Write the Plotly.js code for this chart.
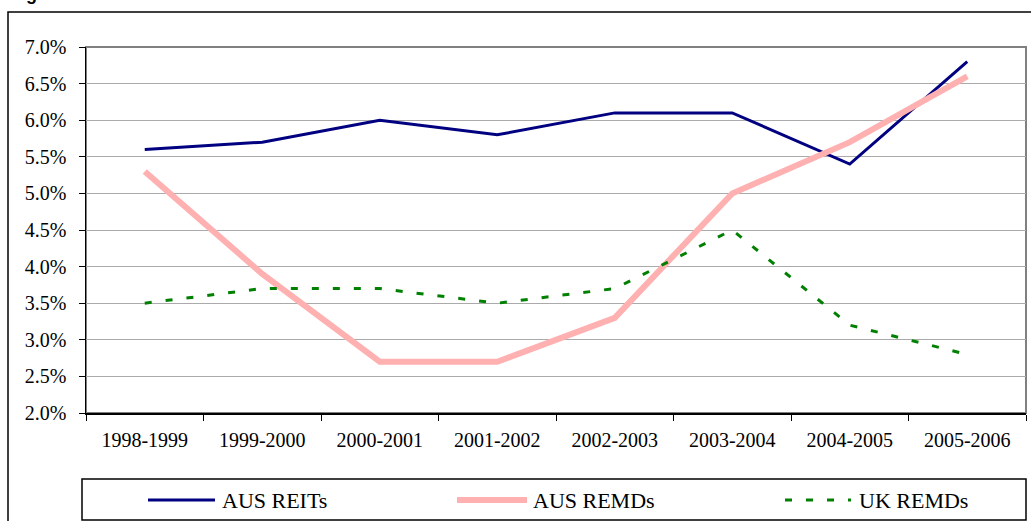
<!DOCTYPE html>
<html>
<head>
<meta charset="utf-8">
<script src="https://cdn.plot.ly/plotly-3.0.1.min.js"></script>
<style>html,body{margin:0;padding:0;background:#fff;}#chart{width:1031px;height:521px;}</style>
</head>
<body>
<div id="chart"></div>
<script>
// ---- data ----
var categories = ["1998-1999","1999-2000","2000-2001","2001-2002","2002-2003","2003-2004","2004-2005","2005-2006"];
var ausReits = [5.6, 5.7, 6.0, 5.8, 6.1, 6.1, 5.4, 6.8];
var ausRemds = [5.3, 3.9, 2.7, 2.7, 3.3, 5.0, 5.7, 6.6];
var ukRemds  = [3.5, 3.7, 3.7, 3.5, 3.7, 4.5, 3.2, 2.8];
var seriesNames = ["AUS REITs", "AUS REMDs", "UK REMDs"];
var titleFragment = "Figure";

// ---- layout helpers (pixel -> paper) ----
var W = 1031, H = 521, L = 86, R = 5, T = 47, B = 108;
var PW = W - L - R, PH = H - T - B;
function px(x){ return (x - L) / PW; }
function py(y){ return (H - B - y) / PH; }

var serif = "Liberation Serif, Times New Roman, serif";
var colors = ["#000080", "#ffb0b0", "#008000"];
var widths = [3, 6, 3];
var dashes = ["solid", "solid", "7px,14px"];
var series = [ausReits, ausRemds, ukRemds];

var traces = series.map(function(vals, i){
  return {
    x: categories, y: vals, name: seriesNames[i], type: "scatter", mode: "lines",
    line: {color: colors[i], width: widths[i], dash: dashes[i]},
    hoverinfo: "skip"
  };
});

// legend (drawn as a boxed row below the plot)
var legLineX = [[148,215],[457,527],[785,851]];
var legTextX = [220, 531, 857];
var legY = 500;

var shapes = [
  // plot area border (top/right grey)
  {type:"rect", xref:"paper", yref:"paper", x0:0, x1:1, y0:0, y1:1,
   line:{color:"#808080", width:2}, layer:"below"},
  // outer chart frame
  {type:"rect", xref:"paper", yref:"paper", x0:px(8), x1:px(1045), y0:py(540), y1:py(12),
   line:{color:"#000000", width:1.5}},
  // legend box
  {type:"rect", xref:"paper", yref:"paper", x0:px(82), x1:px(1026), y0:py(520), y1:py(479),
   line:{color:"#000000", width:1.5}}
];
var annotations = [];
seriesNames.forEach(function(n, i){
  shapes.push({type:"line", xref:"paper", yref:"paper",
    x0:px(legLineX[i][0]), x1:px(legLineX[i][1]), y0:py(legY), y1:py(legY),
    line:{color:colors[i], width:widths[i], dash:dashes[i]}});
  annotations.push({xref:"paper", yref:"paper", x:px(legTextX[i]), y:py(legY),
    xanchor:"left", yanchor:"middle", text:n, showarrow:false,
    font:{family:serif, size:22, color:"#000"}});
});
annotations.push({xref:"paper", yref:"paper", x:px(8), y:py(0), xanchor:"left", yanchor:"bottom",
  yshift:-6, text:"<b>"+titleFragment+"</b>", showarrow:false,
  font:{family:"Liberation Sans, Arial, sans-serif", size:18, color:"#000"}});

var layout = {
  width: W, height: H,
  margin: {l:L, r:R, t:T, b:B, pad:0},
  paper_bgcolor: "#ffffff", plot_bgcolor: "#ffffff",
  showlegend: false,
  xaxis: {
    type: "category", tickson: "boundaries", ticks: "outside", ticklen: 6, tickcolor: "#000",
    showline: true, linecolor: "#000", linewidth: 1.5, showgrid: false, zeroline: false,
    tickfont: {family: serif, size: 20, color: "#000"}, ticklabelstandoff: 8,
    range: [-0.5, categories.length - 0.5]
  },
  yaxis: {
    range: [2, 7], dtick: 0.5, tick0: 2, tickformat: ".1f", ticksuffix: "%",
    ticks: "outside", ticklen: 6, tickcolor: "#000",
    showline: true, linecolor: "#000", linewidth: 1.5,
    showgrid: true, gridcolor: "#aaaaaa", gridwidth: 1, zeroline: false,
    tickfont: {family: serif, size: 20, color: "#000"}, ticklabelstandoff: 8
  },
  shapes: shapes,
  annotations: annotations
};

Plotly.newPlot("chart", traces, layout, {staticPlot: true, displayModeBar: false});
</script>
</body>
</html>
